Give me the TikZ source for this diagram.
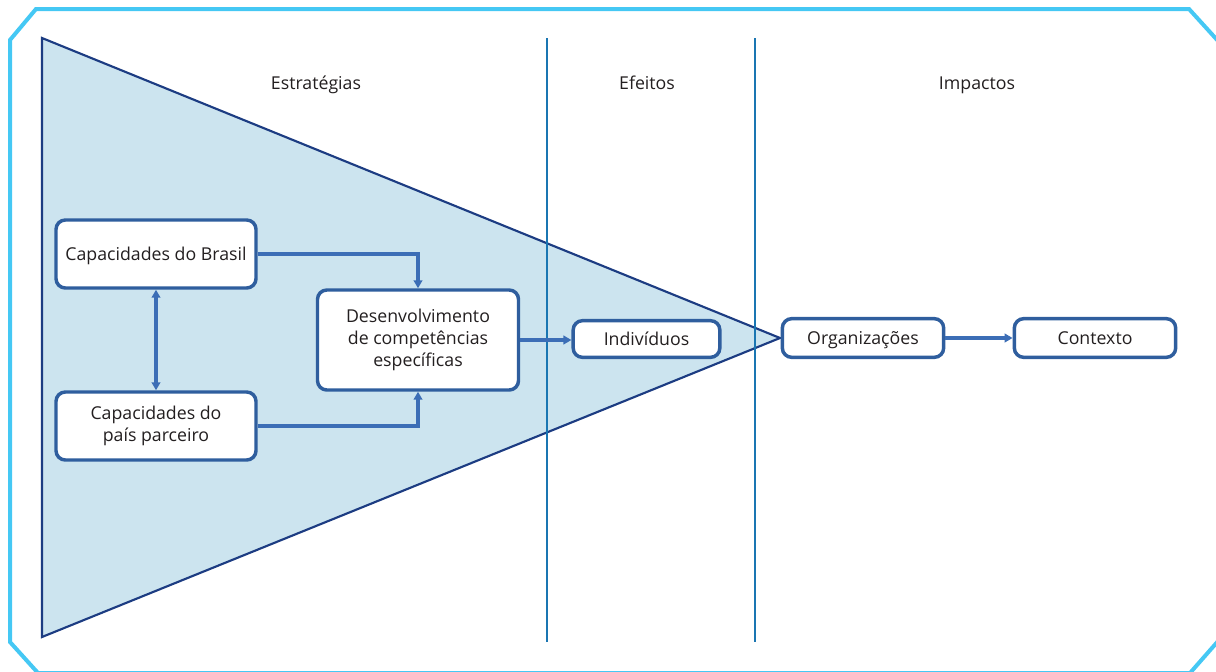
\documentclass[tikz,border=0pt]{standalone}
\usepackage{fontspec}
\setmainfont{Open Sans}
\usetikzlibrary{arrows.meta}
\definecolor{frame}{HTML}{45C8F4}
\definecolor{navy}{HTML}{1C3C82}
\definecolor{tri}{HTML}{CCE4EF}
\definecolor{vline}{HTML}{1A76B2}
\definecolor{boxc}{HTML}{2F5E9E}
\definecolor{arr}{HTML}{3C6EB6}
\definecolor{txt}{HTML}{231F20}
\begin{document}
\begin{tikzpicture}[x=0.75pt,y=-0.75pt,
  box/.style={draw=boxc,line width=2.6pt,fill=white,rounded corners=7pt,align=center,text=txt,font=\fontsize{13.3}{16.5}\selectfont,inner sep=0pt},
  one/.style={text height=11pt,text depth=1.5pt},
  head/.style={text=txt,font=\fontsize{13.3}{16}\selectfont,anchor=base},
  conn/.style={arr,line width=2.6pt,-{Triangle[length=6pt,width=6.5pt]}},
  conn2/.style={arr,line width=2.6pt,{Triangle[length=6pt,width=6.5pt]}-{Triangle[length=6pt,width=6.5pt]}}]
\useasboundingbox (0,0) rectangle (1216,671);
\clip (0,0) rectangle (1216,671);
% outer frame
\draw[frame,line width=3pt] (10,40) -- (36,9) -- (1189,9) -- (1219,42) -- (1219,640) -- (1190,673) -- (38,673) -- (10,642) -- cycle;
% triangle
\draw[navy,fill=tri,line width=1.6pt] (42,38) -- (780,338) -- (42,637) -- cycle;
% vertical lines
\draw[vline,line width=1.5pt] (547,38) -- (547,642);
\draw[vline,line width=1.5pt] (755,38) -- (755,642);
% headers
\node[head] (h1) at (316,89) {Estratégias};
\node[head] (h2) at (647,89) {Efeitos};
\node[head] (h3) at (977,89) {Impactos};
% boxes
\node[box,one,minimum width=150pt,minimum height=51pt] (bra) at (156,254) {Capacidades do Brasil};
\node[box,minimum width=150pt,minimum height=51pt] (par) at (156,426) {Capacidades do\\país parceiro};
\node[box,minimum width=150.75pt,minimum height=75pt] (des) at (418,340) {Desenvolvimento\\de competências\\específicas};
\node[box,one,minimum width=110pt,minimum height=27.5pt] (ind) at (646.5,339) {Indivíduos};
\node[box,one,minimum width=121pt,minimum height=29pt] (org) at (863,338) {Organizações};
\node[box,one,minimum width=121pt,minimum height=29pt] (con) at (1095,338) {Contexto};
% connectors
\draw[conn] (bra.east) -| (des.north);
\draw[conn] (par.east) -| (des.south);
\draw[conn2] (bra.south) -- (par.north);
\draw[conn] (des.east) -- (des.east -| ind.west);
\draw[conn] (org.east) -- (con.west);
\end{tikzpicture}
\end{document}
